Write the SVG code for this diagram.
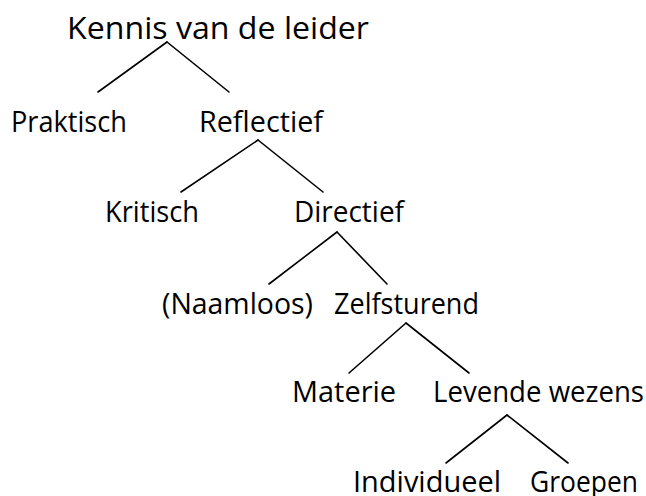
<svg xmlns="http://www.w3.org/2000/svg" width="646" height="496" viewBox="0 0 646 496">
<style>
text{font-family:"Open Sans","Noto Sans","Liberation Sans",sans-serif;font-size:29px;fill:#000}
.t{font-size:31px}
#connectors line{stroke:#000;stroke-width:1.6;stroke-linecap:round}
</style>
<rect width="646" height="496" fill="#fff"/>
<g id="connectors">
<line x1="167" y1="42" x2="98" y2="92"/>
<line x1="167" y1="42" x2="229" y2="92"/>
<line x1="258" y1="140" x2="181" y2="192"/>
<line x1="258" y1="140" x2="323" y2="192"/>
<line x1="337" y1="232" x2="269" y2="284"/>
<line x1="337" y1="232" x2="387" y2="284"/>
<line x1="406" y1="323" x2="349" y2="373"/>
<line x1="406" y1="323" x2="469" y2="373"/>
<line x1="507" y1="415" x2="446" y2="463"/>
<line x1="507" y1="415" x2="568" y2="463"/>
</g>
<g id="kennis"><text class="t" x="67" y="39" textLength="302" lengthAdjust="spacingAndGlyphs">Kennis van de leider</text></g>
<g id="praktisch"><text x="11" y="132" textLength="116" lengthAdjust="spacingAndGlyphs">Praktisch</text></g>
<g id="reflectief"><text x="199" y="132" textLength="124" lengthAdjust="spacingAndGlyphs">Reflectief</text></g>
<g id="kritisch"><text x="105" y="222" textLength="94" lengthAdjust="spacingAndGlyphs">Kritisch</text></g>
<g id="directief"><text x="294" y="222" textLength="110" lengthAdjust="spacingAndGlyphs">Directief</text></g>
<g id="naamloos"><text x="162" y="314" textLength="151" lengthAdjust="spacingAndGlyphs">(Naamloos)</text></g>
<g id="zelfsturend"><text x="334" y="314" textLength="145" lengthAdjust="spacingAndGlyphs">Zelfsturend</text></g>
<g id="materie"><text x="292" y="402" textLength="104" lengthAdjust="spacingAndGlyphs">Materie</text></g>
<g id="levende"><text x="433" y="402" textLength="211" lengthAdjust="spacingAndGlyphs">Levende wezens</text></g>
<g id="individueel"><text x="353" y="492" textLength="148" lengthAdjust="spacingAndGlyphs">Individueel</text></g>
<g id="groepen"><text x="530" y="492" textLength="108" lengthAdjust="spacingAndGlyphs">Groepen</text></g>
</svg>
